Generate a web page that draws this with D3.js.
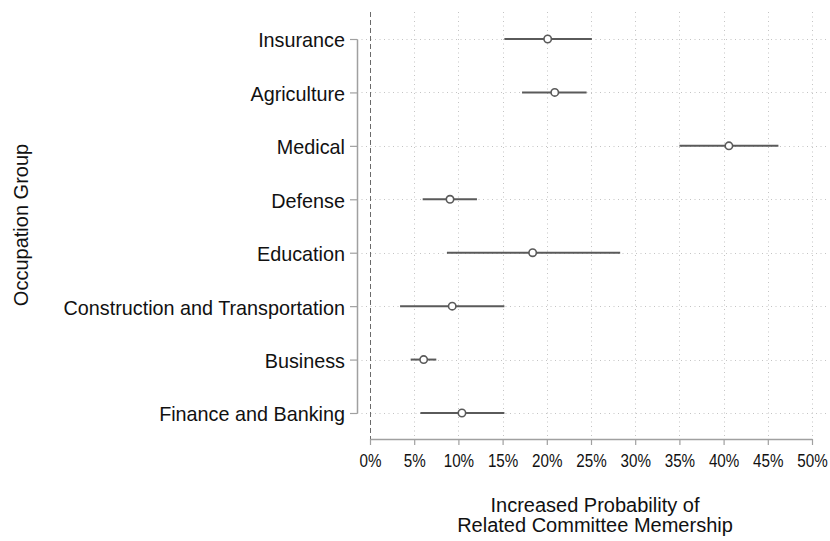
<!DOCTYPE html>
<html>
<head>
<meta charset="utf-8">
<script src="https://cdn.jsdelivr.net/npm/d3@7"></script>
<style>
  html, body { margin: 0; padding: 0; background: #fff; }
  svg { display: block; font-family: "Liberation Sans", Arial, Helvetica, sans-serif; }
</style>
</head>
<body>
<svg id="chart" width="830" height="541"></svg>
<script>
// Occupation groups, top to bottom
const groups = [
  "Insurance", "Agriculture", "Medical", "Defense", "Education",
  "Construction and Transportation", "Business", "Finance and Banking"
];
// Point estimates and 95% interval bounds (percentage points)
const estimate = [20.1, 20.9, 40.6, 9.05, 18.4, 9.3, 6.07, 10.4];
const lower    = [15.2, 17.2, 35.0, 5.96, 8.7, 3.4, 4.6, 5.7];
const upper    = [25.1, 24.5, 46.2, 12.1, 28.3, 15.2, 7.5, 15.2];
const xTicks   = [0, 5, 10, 15, 20, 25, 30, 35, 40, 45, 50];

const svg = d3.select("#chart");

const plot = { left: 357, right: 828, top: 12, bottom: 439 };

const x = d3.scaleLinear().domain([0, 50]).range([370, 812]);
const y = d3.scalePoint().domain(groups).range([39, 413]);

// Dotted grid
const grid = svg.append("g").attr("stroke", "#c4c4c4").attr("stroke-width", 1)
  .attr("stroke-dasharray", "1,3.5");
grid.selectAll("line.v").data(xTicks.filter(d => d > 0)).join("line")
  .attr("class", "v")
  .attr("x1", d => Math.round(x(d)) + 0.5).attr("x2", d => Math.round(x(d)) + 0.5)
  .attr("y1", plot.top).attr("y2", plot.bottom);
grid.selectAll("line.h").data(groups).join("line")
  .attr("class", "h")
  .attr("x1", plot.left).attr("x2", plot.right)
  .attr("y1", d => Math.round(y(d)) + 0.5).attr("y2", d => Math.round(y(d)) + 0.5);

// Reference line at zero
svg.append("line")
  .attr("x1", Math.round(x(0)) + 0.5).attr("x2", Math.round(x(0)) + 0.5)
  .attr("y1", plot.top).attr("y2", plot.bottom)
  .attr("stroke", "#6a6a6a").attr("stroke-width", 1)
  .attr("stroke-dasharray", "5,3");

// X axis (tick labels in a condensed face)
const xAxis = d3.axisBottom(x).tickValues(xTicks).tickFormat(d => d + "%")
  .tickSize(6).tickSizeOuter(0);
const gx = svg.append("g").attr("transform", `translate(0,${plot.bottom})`).call(xAxis);
gx.select(".domain").attr("stroke", "#a0a0a0").attr("stroke-width", 1.5);
gx.selectAll(".tick line").attr("stroke", "#a0a0a0").attr("stroke-width", 1.2);
gx.selectAll(".tick text").attr("fill", "#111").attr("font-size", 19)
  .attr("font-family", "Liberation Sans, Arial, sans-serif")
  .attr("y", 28).attr("dy", 0)
  .attr("transform", "scale(0.8,1)");

// Y axis
const yAxis = d3.axisLeft(y).tickSize(7).tickSizeOuter(0).tickPadding(5);
const gy = svg.append("g").attr("transform", `translate(${plot.left},0)`).call(yAxis);
gy.select(".domain").attr("stroke", "#a0a0a0").attr("stroke-width", 1.5);
gy.selectAll(".tick line").attr("stroke", "#a0a0a0").attr("stroke-width", 1.2);
gy.selectAll(".tick text").attr("fill", "#111").attr("font-size", 19.8)
  .attr("font-family", "Liberation Sans, Arial, sans-serif")
  .attr("dy", "0.4em");

// Interval bars
const rows = groups.map((g, i) => ({ g, est: estimate[i], lo: lower[i], hi: upper[i] }));
svg.append("g").selectAll("line").data(rows).join("line")
  .attr("x1", d => x(d.lo)).attr("x2", d => x(d.hi))
  .attr("y1", d => y(d.g)).attr("y2", d => y(d.g))
  .attr("stroke", "#5a5a5a").attr("stroke-width", 2);

// Point estimates
svg.append("g").selectAll("circle").data(rows).join("circle")
  .attr("cx", d => x(d.est)).attr("cy", d => y(d.g)).attr("r", 3.7)
  .attr("fill", "#fff").attr("stroke", "#5a5a5a").attr("stroke-width", 1.6);

// Axis titles
svg.append("text")
  .attr("transform", "translate(28,225) rotate(-90)")
  .attr("text-anchor", "middle").attr("font-size", 20).attr("fill", "#111")
  .text("Occupation Group");

const xt = svg.append("g").attr("font-size", 20).attr("fill", "#111")
  .attr("text-anchor", "middle");
xt.append("text").attr("x", 595).attr("y", 511.5).text("Increased Probability of");
xt.append("text").attr("x", 595).attr("y", 532).text("Related Committee Memership");
</script>
</body>
</html>
